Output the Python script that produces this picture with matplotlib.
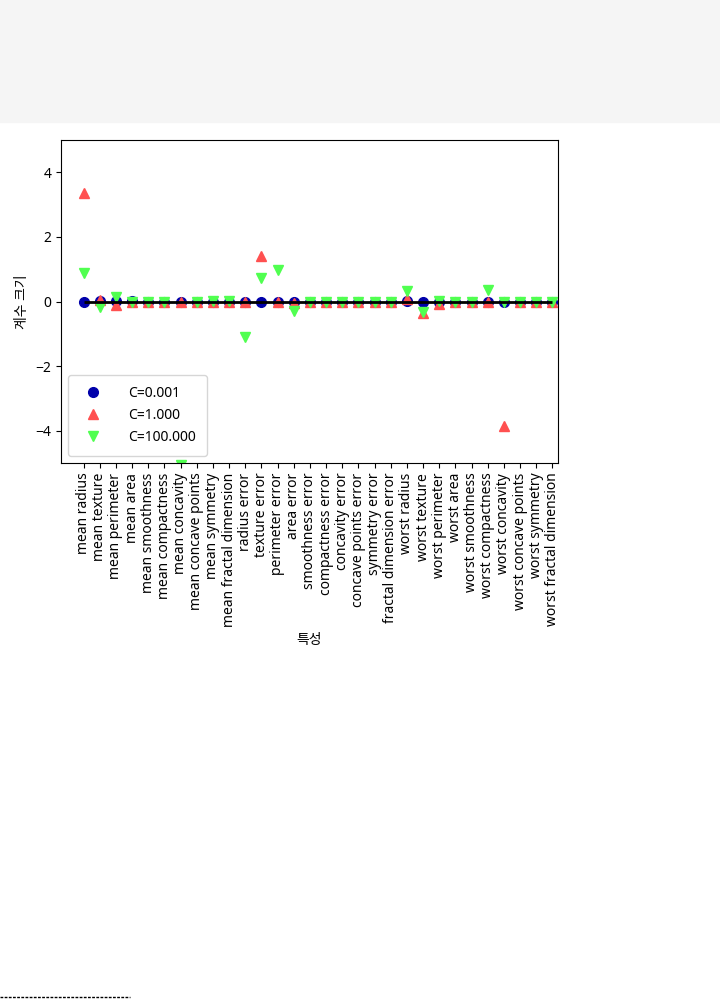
import matplotlib
matplotlib.use("Agg")
import matplotlib.pyplot as plt
import numpy as np

plt.rcParams['font.family'] = ['Noto Sans', 'Noto Sans CJK KR', 'DejaVu Sans']
plt.rcParams['axes.unicode_minus'] = True

features = ["mean radius", "mean texture", "mean perimeter", "mean area",
            "mean smoothness", "mean compactness", "mean concavity",
            "mean concave points", "mean symmetry", "mean fractal dimension",
            "radius error", "texture error", "perimeter error", "area error",
            "smoothness error", "compactness error", "concavity error",
            "concave points error", "symmetry error", "fractal dimension error",
            "worst radius", "worst texture", "worst perimeter", "worst area",
            "worst smoothness", "worst compactness", "worst concavity",
            "worst concave points", "worst symmetry", "worst fractal dimension"]

coef_001 = [0.0, 0.01, 0.02, 0.01, 0.0, 0.0, 0.0, 0.0, 0.0, 0.0,
            0.0, 0.0, 0.0, 0.0, 0.0, 0.0, 0.0, 0.0, 0.0, 0.0,
            0.01, -0.02, 0.0, -0.01, 0.0, 0.0, 0.0, 0.0, 0.0, 0.0]
coef_1 = [3.36, 0.06, -0.12, 0.0, 0.0, 0.0, 0.0, 0.0, 0.0, 0.0,
          0.0, 1.41, 0.0, -0.05, 0.0, 0.0, 0.0, 0.0, 0.0, 0.0,
          0.08, -0.35, -0.08, -0.02, 0.0, 0.0, -3.85, 0.0, 0.0, 0.0]
coef_100 = [0.88, -0.18, 0.15, 0.0, 0.0, 0.0, -5.05, 0.0, 0.02, 0.02,
            -1.1, 0.72, 0.96, -0.28, 0.0, 0.0, 0.0, 0.0, 0.0, 0.0,
            0.34, -0.33, 0.02, -0.03, 0.0, 0.37, 0.0, 0.0, 0.0, 0.0]

fig = plt.figure(figsize=(7.2, 10.01), dpi=100)
# grey band at the top
fig.patches.append(plt.Rectangle((0, 1 - 122 / 1001), 1, 122 / 1001,
                                 transform=fig.transFigure, color='#f5f5f5', zorder=0))
# dotted footnote rule
fig.add_artist(plt.Line2D([0, 130 / 720], [4 / 1001, 4 / 1001], color='black',
                          linestyle=(0, (2, 1)), linewidth=1, transform=fig.transFigure))

ax = fig.add_axes([61 / 720, 1 - 463 / 1001, 497 / 720, 323 / 1001])
x = np.arange(len(features))
ax.plot(x, coef_001, 'o', color='#0000aa', markersize=7, label="C=0.001")
ax.plot(x, coef_1, '^', color='#ff5050', markersize=7, label="C=1.000")
ax.plot(x, coef_100, 'v', color='#50ff50', markersize=7, label="C=100.000")
ax.hlines(0, 0, len(features) - 1, color='black', linewidth=2)
ax.set_xlim(-1.4, len(features) - 0.65)
ax.set_ylim(-5, 5)
ax.set_xticks(x)
ax.set_xticklabels(features, rotation=90)
ax.set_xlabel("특성")
ax.set_ylabel("계수 크기")
ax.legend(loc='lower left', borderpad=0.8, handletextpad=1.5)

fig.savefig("out.png", dpi=100)
